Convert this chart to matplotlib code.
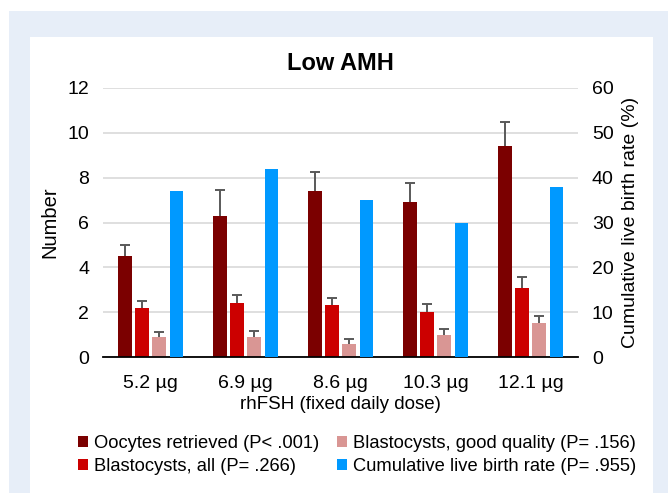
import numpy as np
import matplotlib.pyplot as plt
from matplotlib.patches import Rectangle

plt.rcParams['font.family'] = ['Liberation Sans', 'DejaVu Sans']

doses = ['5.2 µg', '6.9 µg', '8.6 µg', '10.3 µg', '12.1 µg']
oocytes = [4.5, 6.3, 7.4, 6.9, 9.4]
oocytes_err = [0.5, 1.15, 0.85, 0.85, 1.1]
blast_all = [2.2, 2.4, 2.3, 2.0, 3.1]
blast_all_err = [0.3, 0.35, 0.35, 0.37, 0.45]
blast_good = [0.9, 0.9, 0.6, 1.0, 1.5]
blast_good_err = [0.2, 0.25, 0.2, 0.25, 0.33]
clbr = [37, 42, 35, 30, 38]

c_ooc = '#7b0000'
c_all = '#cc0000'
c_good = '#d99694'
c_clbr = '#0099ff'
err_col = '#595959'

fig = plt.figure(figsize=(6.68, 4.93), dpi=100)
fig.patches.append(Rectangle((9/668, 0), 1 - 9/668, 1 - 11/493, transform=fig.transFigure,
                             facecolor='#e7eef8', edgecolor='none', zorder=-2))
fig.patches.append(Rectangle((30/668, 0), (653-30)/668, 1 - 37/493, transform=fig.transFigure,
                             facecolor='white', edgecolor='none', zorder=-1))

ax = fig.add_axes([103/668, 1 - 357/493, 475/668, 269/493])
ax.set_facecolor('none')
ax2 = ax.twinx()

x = np.arange(len(doses))
w = 0.14
sp = 0.18
cap = 0.055


def up_err(pos, vals, errs):
    # only the upper half of the error bar, like the original
    tops = np.array(vals) + np.array(errs)
    ax.vlines(pos, vals, tops, color=err_col, linewidth=1.4, zorder=4)
    ax.hlines(tops, pos - cap, pos + cap, color=err_col, linewidth=1.4, zorder=4)


b1 = ax.bar(x - 1.5*sp, oocytes, w, color=c_ooc, label='Oocytes retrieved (P< .001)', zorder=3)
b2 = ax.bar(x - 0.5*sp, blast_all, w, color=c_all, label='Blastocysts, all (P= .266)', zorder=3)
b3 = ax.bar(x + 0.5*sp, blast_good, w, color=c_good, label='Blastocysts, good quality (P= .156)', zorder=3)
b4 = ax2.bar(x + 1.5*sp, clbr, w, color=c_clbr, label='Cumulative live birth rate (P= .955)', zorder=3)
up_err(x - 1.5*sp, oocytes, oocytes_err)
up_err(x - 0.5*sp, blast_all, blast_all_err)
up_err(x + 0.5*sp, blast_good, blast_good_err)

ax.set_xlim(-0.5, len(doses) - 0.5)
ax.set_ylim(0, 12)
ax.set_yticks(np.arange(0, 13, 2))
ax2.set_ylim(0, 60)
ax2.set_yticks(np.arange(0, 61, 10))
ax.yaxis.grid(True, color='#d9d9d9', linewidth=1.2, zorder=0)
ax.set_axisbelow(True)

for a in (ax, ax2):
    for s in ['top', 'left', 'right', 'bottom']:
        a.spines[s].set_visible(False)
    a.tick_params(axis='y', length=0, labelsize=14, pad=10)
ax.spines['bottom'].set_visible(True)
ax.spines['bottom'].set_color('black')
ax.spines['bottom'].set_linewidth(1.3)
ax.spines['bottom'].set_zorder(5)

ax.set_xticks(x)
ax.set_xticklabels(doses)
ax.tick_params(axis='x', length=0, labelsize=14, pad=13)

ax.set_ylabel('Number', fontsize=14.5, labelpad=6)
ax2.set_ylabel('Cumulative live birth rate (%)', fontsize=14, labelpad=6)
ax.set_xlabel('rhFSH (fixed daily dose)', fontsize=13.5, labelpad=3)
ax.set_title('Low AMH', fontsize=17, fontweight='bold', pad=13)

handles = [b1, b2, b3, b4]
fig.legend(handles, [h.get_label() for h in handles], ncol=2, loc='center',
           bbox_to_anchor=(357/668, 1 - 455/493), frameon=False, fontsize=13.2,
           handlelength=0.55, handleheight=0.55, handletextpad=0.3, columnspacing=1.0,
           labelspacing=0.3)

fig.savefig('out.png', dpi=100)
